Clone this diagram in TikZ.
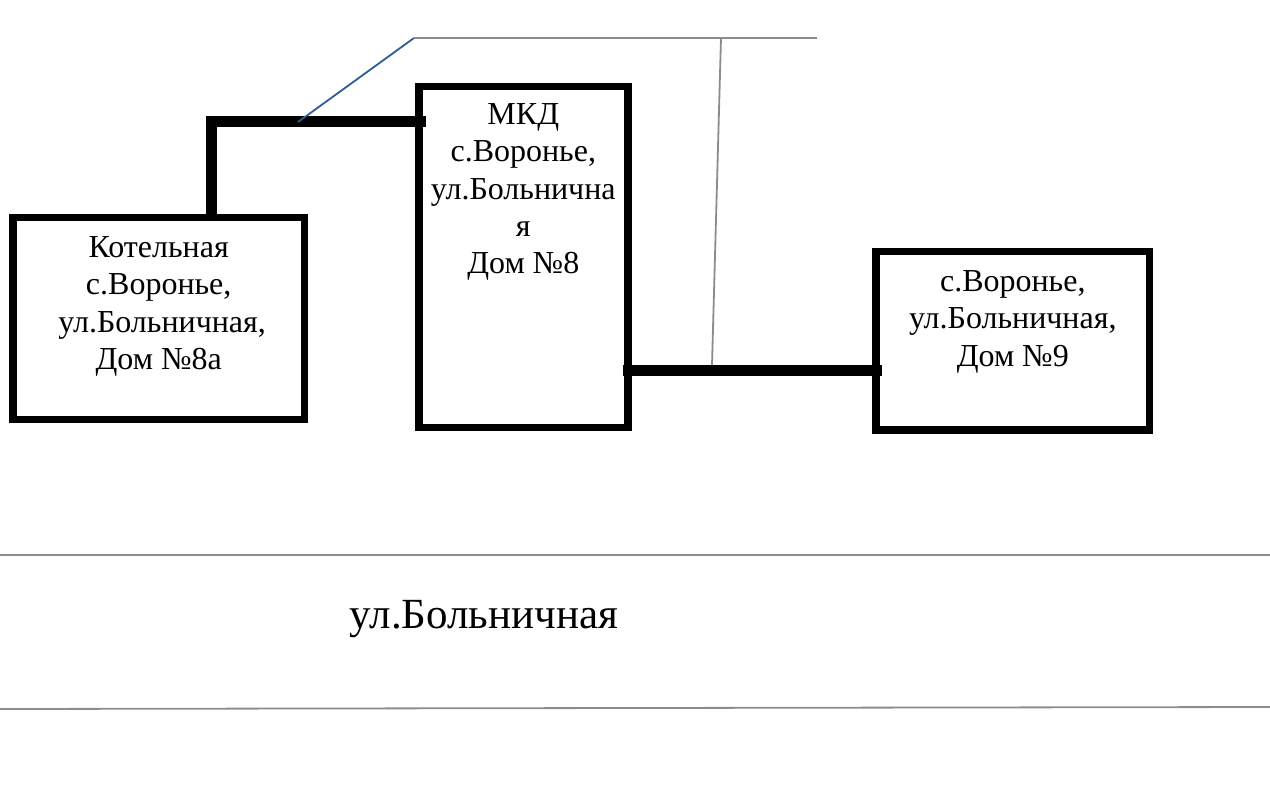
\documentclass[tikz,border=0pt]{standalone}
\usepackage{fontspec}
\setmainfont{Liberation Serif}
\definecolor{thinblue}{RGB}{47,92,150}
\definecolor{thingray}{RGB}{140,140,140}
\tikzset{
  house/.style={draw, line width=7.4pt, inner sep=0pt},
  boxtext/.style={align=center, font=\fontsize{32}{37.3}\selectfont, anchor=north},
  pipe/.style={line width=11pt},
  thin gray/.style={draw=thingray, line width=1.8pt},
  thin blue/.style={draw=thinblue, line width=1.8pt}
}
\begin{document}
\begin{tikzpicture}[x=1pt,y=-1pt]
\useasboundingbox (0,0) rectangle (1270,795);
\node[house, minimum width=291.4pt, minimum height=201.7pt] (boiler) at (158.7,318.5){};
\node[house, minimum width=209pt, minimum height=341pt] (mkd) at (523.3,256.8){};
\node[house, minimum width=273.5pt, minimum height=178.5pt] (house9) at (1012.8,340.7){};
\node[boxtext] (boilertext) at (158.7,233){Котельная\\с.Воронье,\\\hspace*{7pt}ул.Больничная,\\Дом №8а};
\node[boxtext] (mkdtext) at (523.3,100){МКД\\с.Воронье,\\ул.Больнична\\я\\Дом №8};
\node[boxtext] (housetext) at (1012.8,267){с.Воронье,\\ул.Больничная,\\Дом №9};
\coordinate (corner) at (211,121);
\coordinate (mkdin) at (426,121);
\coordinate (boilerup) at (211,214);
\coordinate (mkdout) at (623,370);
\coordinate (housein) at (881.5,370);
\draw[pipe] (boilerup) -- (corner) -- (mkdin);
\draw[pipe] (mkdout) -- (housein);
\coordinate (top0) at (414,38);
\coordinate (top1) at (817,38);
\coordinate (topdrop) at (721,38);
\coordinate (pipedrop) at (712,365);
\coordinate (pipeblue) at (298,122);
\draw[thin blue] (pipeblue) -- (top0);
\draw[thin gray] (top0) -- (top1);
\draw[thin gray] (topdrop) -- (pipedrop);
\coordinate (road0) at (0,555);
\coordinate (road1) at (1270,555);
\coordinate (road2) at (0,709);
\coordinate (road3) at (1270,707);
\draw[thin gray] (road0) -- (road1);
\draw[thin gray] (road2) -- (road3);
\node[font=\fontsize{43}{48}\selectfont] (street) at (484,619){ул.Больничная};
\end{tikzpicture}
\end{document}
